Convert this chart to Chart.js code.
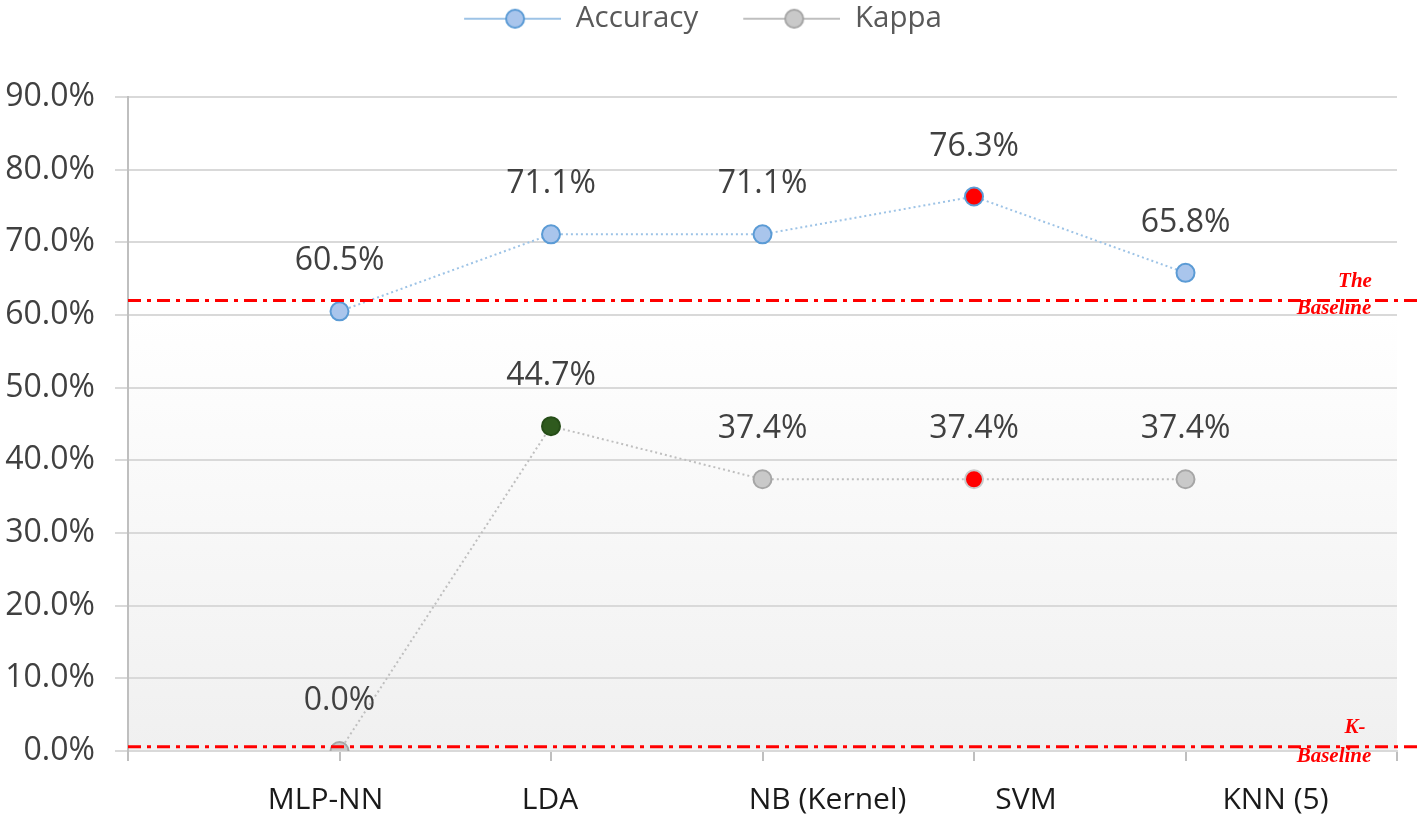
<!DOCTYPE html>
<html>
<head>
<meta charset="utf-8">
<script src="https://cdn.jsdelivr.net/npm/chart.js@4"></script>
<style>
  html, body { margin: 0; padding: 0; background: #fff; }
  #wrap { width: 1418px; height: 817px; }
</style>
</head>
<body>
<div id="wrap"><canvas id="chart" width="1418" height="817"></canvas></div>
<script>
const categories = ['MLP-NN', 'LDA', 'NB (Kernel)', 'SVM', 'KNN (5)'];
const accuracy = [60.5, 71.1, 71.1, 76.3, 65.8];
const kappa = [0.0, 44.7, 37.4, 37.4, 37.4];
const yMin = 0;
const yMax = 90;
const yStep = 10;
const accuracyBaseline = 62;
const kappaBaseline = 0.6;
const shadeTop = 60;

// the category captions in the original are not centred under their points
const labelShift = [-14, -1, 65, 52, 90];

const accFill = '#a9c5ec';
const accStroke = '#5b9bd5';
const kapFill = '#c9c9c9';
const kapStroke = '#a6a6a6';
const accPointFill = [accFill, accFill, accFill, '#ff0000', accFill];
const kapPointFill = [kapFill, '#2f5a1e', kapFill, '#ff0000', kapFill];
const kapPointStroke = [kapStroke, '#264d18', kapStroke, '#c9c9c9', kapStroke];

// empty slot at both ends so categories sit on ticks 1..5 of 0..6
const pad = arr => [null, ...arr, null];

function legendSample(lineColor, fill, stroke) {
    const c = document.createElement('canvas');
    c.width = 138;
    c.height = 24;
    const g = c.getContext('2d');
    g.strokeStyle = lineColor;
    g.lineWidth = 2;
    g.beginPath();
    g.moveTo(41, 12);
    g.lineTo(138, 12);
    g.stroke();
    g.beginPath();
    g.arc(92, 12, 9, 0, Math.PI * 2);
    g.fillStyle = fill;
    g.fill();
    g.lineWidth = 2;
    g.strokeStyle = stroke;
    g.stroke();
    return c;
}

// tall legend box so the plot starts lower, legend nudged a bit left
const legendHeightPlugin = {
    id: 'legendHeight',
    afterInit(chart) {
        const legend = chart.legend;
        const fit = legend.fit;
        const draw = legend.draw;
        legend.fit = function () {
            fit.call(this);
            this.height = 97;
        };
        legend.draw = function () {
            this.ctx.save();
            this.ctx.translate(-16, 0);
            draw.call(this);
            this.ctx.restore();
        };
    }
};

const shadePlugin = {
    id: 'shade',
    beforeDraw(chart) {
        const {ctx, chartArea, scales} = chart;
        const top = scales.y.getPixelForValue(shadeTop);
        const bottom = scales.y.getPixelForValue(yMin);
        const grad = ctx.createLinearGradient(0, top, 0, bottom);
        grad.addColorStop(0, '#ffffff');
        grad.addColorStop(1, '#f0f0f0');
        ctx.save();
        ctx.fillStyle = grad;
        ctx.fillRect(chartArea.left, top, chartArea.right - chartArea.left, bottom - top);
        ctx.restore();
    }
};

const baselinePlugin = {
    id: 'baselines',
    afterDatasetsDraw(chart) {
        const {ctx, chartArea, scales} = chart;
        const lines = [
            {v: accuracyBaseline, top: 'The', bottom: 'Baseline', dy: 8},
            {v: kappaBaseline, top: 'K-', bottom: 'Baseline', dy: 10}
        ];
        ctx.save();
        lines.forEach(l => {
            const y = scales.y.getPixelForValue(l.v);
            ctx.strokeStyle = '#ff0000';
            ctx.lineWidth = 3;
            ctx.setLineDash([13, 6, 4, 6]);
            ctx.beginPath();
            ctx.moveTo(chartArea.left, y);
            ctx.lineTo(chart.width, y);
            ctx.stroke();
            ctx.setLineDash([]);
            ctx.fillStyle = '#ff0000';
            ctx.font = 'italic bold 21px "Liberation Serif"';
            ctx.textAlign = 'center';
            ctx.textBaseline = 'middle';
            ctx.fillText(l.top, chartArea.right - 42, y - 19);
            ctx.fillText(l.bottom, chartArea.right - 63, y + l.dy);
        });
        ctx.restore();
    }
};

const labelPlugin = {
    id: 'labels',
    afterDraw(chart) {
        const {ctx, scales} = chart;
        ctx.save();
        ctx.textAlign = 'center';
        ctx.textBaseline = 'middle';
        // value labels above each point
        ctx.font = '32px "Open Sans"';
        ctx.fillStyle = '#404040';
        chart.data.datasets.forEach((ds, i) => {
            chart.getDatasetMeta(i).data.forEach((pt, j) => {
                const v = ds.data[j];
                if (v === null) return;
                ctx.fillText(v.toFixed(1) + '%', pt.x, pt.y - 50);
            });
        });
        // category captions under the axis
        ctx.font = '30px "Open Sans"';
        ctx.fillStyle = '#1a1a1a';
        categories.forEach((c, i) => {
            ctx.fillText(c, scales.x.getPixelForValue(i + 1) + labelShift[i], scales.x.top + 49);
        });
        ctx.restore();
    }
};

const ctx = document.getElementById('chart').getContext('2d');
new Chart(ctx, {
    type: 'line',
    data: {
        labels: ['', ...categories, ''],
        datasets: [{
            label: 'Accuracy',
            data: pad(accuracy),
            borderColor: '#9dc3e6',
            borderWidth: 2,
            borderDash: [2, 3],
            pointRadius: 9,
            pointBorderWidth: 2,
            pointBackgroundColor: pad(accPointFill),
            pointBorderColor: accStroke,
            tension: 0
        }, {
            label: 'Kappa',
            data: pad(kappa),
            borderColor: '#bfbfbf',
            borderWidth: 2,
            borderDash: [2, 3],
            pointRadius: 9,
            pointBorderWidth: 2,
            pointBackgroundColor: pad(kapPointFill),
            pointBorderColor: pad(kapPointStroke),
            tension: 0
        }]
    },
    options: {
        responsive: false,
        animation: false,
        layout: {
            padding: {top: 0, right: 21, bottom: 0, left: 0}
        },
        plugins: {
            tooltip: {enabled: false},
            legend: {
                position: 'top',
                labels: {
                    usePointStyle: true,
                    pointStyleWidth: 138,
                    boxHeight: 24,
                    padding: 4,
                    color: '#595959',
                    font: {family: 'Open Sans', size: 29.5},
                    generateLabels() {
                        return [
                            {text: 'Accuracy', pointStyle: legendSample('#9dc3e6', accFill, accStroke), fontColor: '#595959', datasetIndex: 0, hidden: false, lineWidth: 0},
                            {text: 'Kappa', pointStyle: legendSample('#bfbfbf', kapFill, kapStroke), fontColor: '#595959', datasetIndex: 1, hidden: false, lineWidth: 0}
                        ];
                    }
                }
            }
        },
        scales: {
            x: {
                offset: false,
                border: {color: '#d9d9d9', width: 2},
                grid: {drawOnChartArea: false, drawTicks: true, tickLength: 10, color: '#bfbfbf', lineWidth: 2},
                ticks: {display: false},
                afterFit(scale) { scale.height = 66; }
            },
            y: {
                min: yMin,
                max: yMax,
                border: {color: '#bfbfbf', width: 2},
                grid: {color: '#d9d9d9', lineWidth: 2, tickLength: 13},
                ticks: {
                    stepSize: yStep,
                    color: '#404040',
                    font: {family: 'Open Sans', size: 32},
                    padding: 20,
                    callback: v => v.toFixed(1) + '%'
                },
                afterFit(scale) { scale.width = 128; }
            }
        }
    },
    plugins: [legendHeightPlugin, shadePlugin, baselinePlugin, labelPlugin]
});
</script>
</body>
</html>
